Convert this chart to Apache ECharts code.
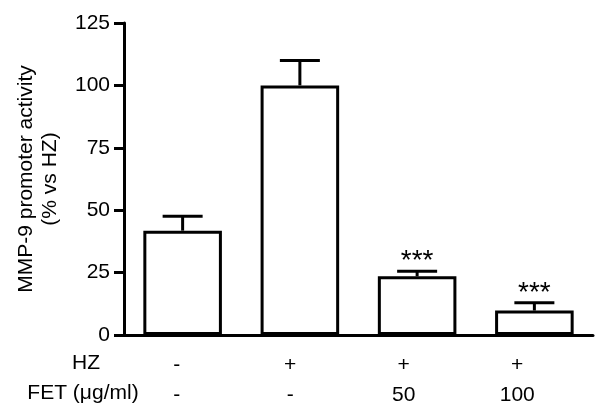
<!DOCTYPE html>
<html>
<head>
<meta charset="utf-8">
<script src="https://cdn.jsdelivr.net/npm/echarts@6/dist/echarts.min.js"></script>
<style>
  html, body { margin: 0; padding: 0; background: #fff; }
  #main { width: 600px; height: 410px; }
</style>
</head>
<body>
<div id="main"></div>
<script>
// groups: HZ / FET treatment
const groups = ["ctrl", "HZ", "HZ+FET50", "HZ+FET100"];
const hzRow = ["-", "+", "+", "+"];
const fetRow = ["-", "-", "50", "100"];
const means = [41.8, 100, 23.5, 9.8];
const sems = [5.8, 10, 2.0, 3.1];
const signif = ["", "", "***", "***"];
const yTicks = { min: 0, max: 125, step: 25 };

const font = "'Liberation Sans', Arial, sans-serif";

const chart = echarts.init(document.getElementById("main"));

const errData = means.map((m, i) => [i, m, m + sems[i]]);

const options = {
  animation: false,
  textStyle: { fontFamily: font, color: "#000" },
  grid: [
    { left: 124, right: 7, top: 23, bottom: 75 },
    { left: 120, right: 26, top: 23, bottom: 75 },
  ],
  xAxis: [
    {
      type: "category",
      gridIndex: 0,
      data: groups,
      axisLine: { lineStyle: { color: "#000", width: 3 } },
      axisTick: { show: false },
      axisLabel: { show: false },
    },
    {
      type: "category",
      gridIndex: 1,
      data: groups,
      axisLine: { show: false },
      axisTick: { show: false },
      axisLabel: {
        margin: 15,
        fontFamily: font,
        fontSize: 21,
        color: "#000",
        lineHeight: 30,
        formatter: (v, i) => hzRow[i] + "\n" + fetRow[i],
      },
    },
  ],
  yAxis: [
    {
      type: "value",
      gridIndex: 0,
      min: yTicks.min,
      max: yTicks.max,
      interval: yTicks.step,
      name: "MMP-9 promoter activity\n(% vs HZ)",
      nameLocation: "middle",
      nameRotate: 90,
      nameGap: 62,
      nameTextStyle: { fontFamily: font, fontSize: 21, color: "#000", lineHeight: 24 },
      splitLine: { show: false },
      axisLine: { show: true, lineStyle: { color: "#000", width: 3 } },
      axisTick: { show: true, length: 10, lineStyle: { color: "#000", width: 3 } },
      axisLabel: { margin: 14, fontFamily: font, fontSize: 21, color: "#000" },
    },
    { type: "value", gridIndex: 1, show: false, min: 0, max: 125 },
  ],
  graphic: [
    {
      type: "text",
      x: 86,
      y: 363,
      style: { text: "HZ", font: "21px " + font, fill: "#000", align: "center", verticalAlign: "middle" },
    },
    {
      type: "text",
      x: 83,
      y: 393,
      style: { text: "FET (\u03bcg/ml)", font: "21px " + font, fill: "#000", align: "center", verticalAlign: "middle" },
    },
  ],
  series: [
    {
      type: "bar",
      xAxisIndex: 0,
      yAxisIndex: 0,
      data: means,
      barWidth: "67%",
      itemStyle: { color: "#fff", borderColor: "#000", borderWidth: 3 },
      z: 2,
    },
    {
      type: "custom",
      xAxisIndex: 0,
      yAxisIndex: 0,
      data: errData,
      z: 3,
      renderItem: function (params, api) {
        const base = api.coord([api.value(0), api.value(1)]);
        const top = api.coord([api.value(0), api.value(2)]);
        const half = 20;
        const style = { stroke: "#000", lineWidth: 3 };
        return {
          type: "group",
          children: [
            { type: "line", shape: { x1: base[0], y1: base[1], x2: top[0], y2: top[1] }, style },
            { type: "line", shape: { x1: top[0] - half, y1: top[1], x2: top[0] + half, y2: top[1] }, style },
            {
              type: "text",
              style: {
                text: signif[params.dataIndex],
                x: top[0],
                y: top[1] - 10,
                align: "center",
                verticalAlign: "middle",
                font: "28px " + font,
                fill: "#000",
              },
            },
          ],
        };
      },
    },
  ],
};

chart.setOption(options);
</script>
</body>
</html>
